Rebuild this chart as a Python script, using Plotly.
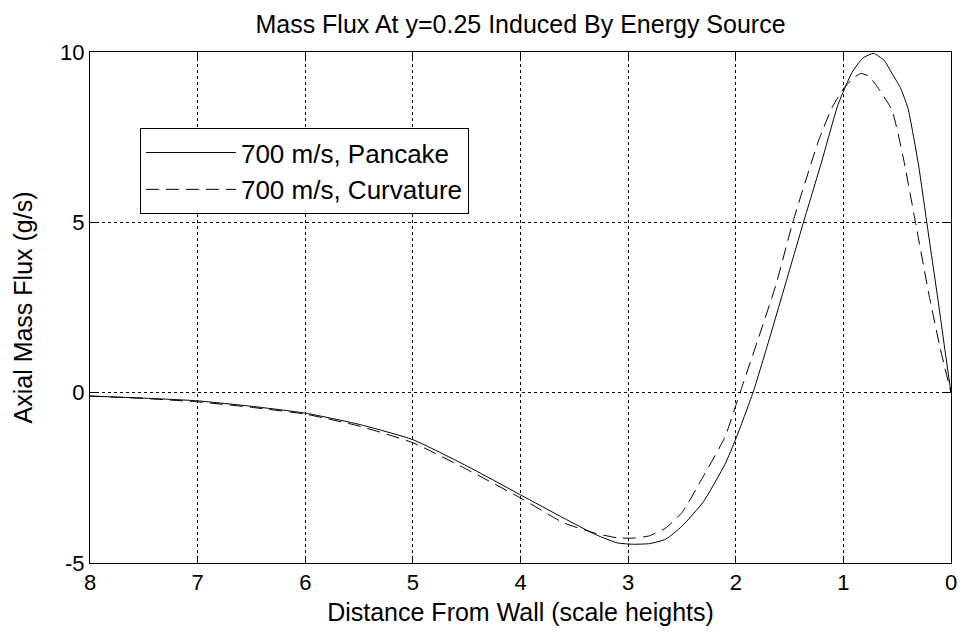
import plotly.graph_objects as go

# Pancake (solid)
x_pancake = [8.0, 7.5, 7.0, 6.5, 6.0, 5.5, 5.0, 4.5, 4.0, 3.6, 3.3, 3.1, 2.95, 2.8, 2.65, 2.5, 2.3, 2.1, 2.0, 1.84,
             1.7, 1.53, 1.38, 1.2, 1.05, 0.92, 0.82, 0.72, 0.62, 0.55, 0.47, 0.4, 0.3, 0.225, 0.12, 0.055, 0.0]
y_pancake = [-0.1, -0.16, -0.24, -0.4, -0.6, -0.93, -1.38, -2.15, -3.0, -3.68, -4.17, -4.41, -4.45, -4.43, -4.3, -3.92,
             -3.2, -2.1, -1.36, 0.0, 1.45, 3.28, 4.9, 6.8, 8.45, 9.4, 9.82, 9.96, 9.75, 9.38, 8.95, 8.35, 6.65, 5.0, 2.7,
             1.22, 0.0]

# Curvature (dashed)
x_curv = [8.0, 7.5, 7.0, 6.5, 6.0, 5.5, 5.0, 4.5, 4.0, 3.6, 3.3, 3.1, 2.95, 2.8, 2.65, 2.5, 2.3, 2.1, 2.0, 1.96,
          1.8, 1.63, 1.47, 1.23, 1.1, 0.99, 0.9, 0.84, 0.77, 0.7, 0.55, 0.45, 0.33, 0.2, 0.1, 0.0]
y_curv = [-0.1, -0.17, -0.27, -0.43, -0.63, -0.98, -1.47, -2.25, -3.09, -3.82, -4.13, -4.26, -4.27, -4.2, -3.97, -3.52,
          -2.45, -1.3, -0.38, 0.0, 1.5, 3.13, 5.0, 7.4, 8.4, 8.96, 9.25, 9.37, 9.3, 9.05, 8.3, 7.0, 5.0, 2.8, 1.3, 0.0]

x_ticks = [8, 7, 6, 5, 4, 3, 2, 1, 0]
y_ticks = [-5, 0, 5, 10]

FONT = "Liberation Sans, Arial, sans-serif"

fig = go.Figure()
fig.add_trace(go.Scatter(x=x_pancake, y=y_pancake, mode="lines", name="700 m/s, Pancake",
                         line=dict(color="black", width=1, shape="spline", smoothing=0.5)))
fig.add_trace(go.Scatter(x=x_curv, y=y_curv, mode="lines", name="700 m/s, Curvature",
                         line=dict(color="black", width=1, dash="13px,7px", shape="spline", smoothing=0.5)))

axis_common = dict(showline=True, linecolor="black", linewidth=1, mirror="ticks",
                   ticks="inside", ticklen=6, tickcolor="black",
                   showgrid=True, gridcolor="black", griddash="dot", gridwidth=1,
                   zeroline=False, tickfont=dict(family=FONT, size=22, color="black"))

fig.update_layout(
    width=969, height=635,
    paper_bgcolor="white", plot_bgcolor="white",
    margin=dict(l=90, r=13, t=52, b=72),
    title=dict(text="Mass Flux At y=0.25 Induced By Energy Source", x=0.5, xref="paper", xanchor="center",
               y=0.962, yanchor="middle", font=dict(family=FONT, size=25, color="black")),
    xaxis=dict(range=[8, 0], tickvals=x_ticks, ticktext=[str(v) for v in x_ticks],
               title=dict(text="Distance From Wall (scale heights)", font=dict(family=FONT, size=25, color="black"),
                          standoff=9),
               **axis_common),
    yaxis=dict(range=[-5, 10], tickvals=y_ticks, ticktext=[str(v) for v in y_ticks],
               title=dict(text="Axial Mass Flux (g/s)", font=dict(family=FONT, size=25, color="black"),
                          standoff=20),
               **axis_common),
    legend=dict(x=0.058, y=0.851, xanchor="left", yanchor="top",
                bgcolor="white", bordercolor="black", borderwidth=1,
                font=dict(family=FONT, size=26, color="black"), itemwidth=90,
                tracegroupgap=0),
    showlegend=True,
)

fig.write_html("out.html")
